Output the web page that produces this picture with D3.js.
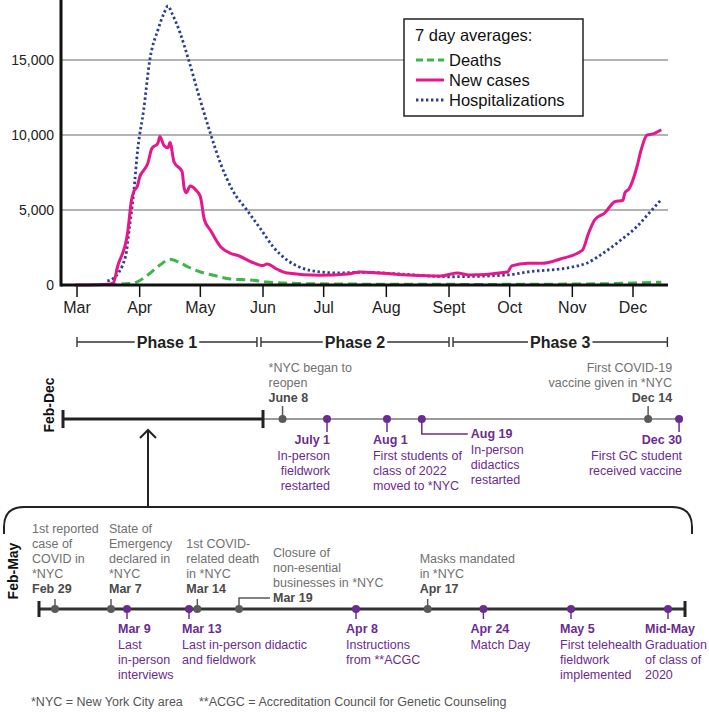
<!DOCTYPE html>
<html>
<head>
<meta charset="utf-8">
<script src="https://cdn.jsdelivr.net/npm/d3@7"></script>
<style>
  body { margin: 0; background: #fff; }
  svg { display: block; font-family: "Liberation Sans", Arial, Helvetica, sans-serif; }
</style>
</head>
<body>
<svg id="chart" width="709" height="712"></svg>
<script>
const parse = d3.timeParse("%Y-%m-%d");

// 7 day averages, [date, value]
const deaths = [
  ["2020-03-16", 30], ["2020-03-29", 130], ["2020-04-05", 670], ["2020-04-11", 1330],
  ["2020-04-16", 1720], ["2020-04-20", 1550], ["2020-04-25", 1200], ["2020-05-01", 870],
  ["2020-05-07", 670], ["2020-05-16", 400], ["2020-05-26", 330], ["2020-06-03", 200],
  ["2020-06-19", 100], ["2020-07-15", 60], ["2020-08-15", 50], ["2020-09-15", 40],
  ["2020-10-15", 50], ["2020-11-15", 80], ["2020-12-01", 130], ["2020-12-15", 190]
];

const newCases = [
  ["2020-02-29", 0], ["2020-03-10", 20], ["2020-03-16", 50], ["2020-03-19", 150],
  ["2020-03-21", 1200], ["2020-03-26", 3450], ["2020-03-28", 5700], ["2020-03-29", 6200],
  ["2020-03-31", 6650], ["2020-04-01", 7200], ["2020-04-03", 7650], ["2020-04-05", 8100],
  ["2020-04-07", 9100], ["2020-04-10", 9450], ["2020-04-11", 9900], ["2020-04-13", 9300],
  ["2020-04-15", 9150], ["2020-04-16", 9500], ["2020-04-18", 8200], ["2020-04-22", 7550],
  ["2020-04-23", 6450], ["2020-04-24", 6150], ["2020-04-26", 6600], ["2020-04-29", 6300],
  ["2020-05-01", 5900], ["2020-05-03", 4350], ["2020-05-06", 3650], ["2020-05-11", 2550],
  ["2020-05-16", 2100], ["2020-05-20", 1950], ["2020-05-26", 1550], ["2020-06-01", 1300],
  ["2020-06-03", 1400], ["2020-06-08", 1050], ["2020-06-13", 800], ["2020-06-29", 650],
  ["2020-07-13", 730], ["2020-07-19", 870], ["2020-08-11", 670], ["2020-08-28", 600],
  ["2020-09-05", 800], ["2020-09-11", 670], ["2020-09-30", 870], ["2020-10-02", 1270],
  ["2020-10-10", 1450], ["2020-10-17", 1450], ["2020-10-26", 1730], ["2020-11-06", 2330],
  ["2020-11-09", 3450], ["2020-11-12", 4330], ["2020-11-17", 4800], ["2020-11-22", 5550],
  ["2020-11-26", 5650], ["2020-11-27", 6150], ["2020-11-29", 6400], ["2020-12-03", 7900],
  ["2020-12-05", 9000], ["2020-12-08", 10000], ["2020-12-11", 10070], ["2020-12-13", 10200],
  ["2020-12-15", 10350]
];

const hospitalizations = [
  ["2020-03-16", 270], ["2020-03-19", 450], ["2020-03-25", 1900], ["2020-03-27", 3900],
  ["2020-03-29", 6100], ["2020-03-31", 9000], ["2020-04-03", 11700], ["2020-04-06", 15000],
  ["2020-04-10", 17000], ["2020-04-13", 18100], ["2020-04-15", 18600], ["2020-04-17", 18100],
  ["2020-04-21", 16800], ["2020-04-25", 15100], ["2020-05-01", 12300], ["2020-05-06", 10100],
  ["2020-05-11", 8100], ["2020-05-17", 6300], ["2020-05-24", 5000], ["2020-05-31", 3700],
  ["2020-06-06", 2550], ["2020-06-13", 1650], ["2020-06-19", 1200], ["2020-06-29", 880],
  ["2020-07-09", 800], ["2020-07-19", 850], ["2020-08-08", 730], ["2020-09-01", 550],
  ["2020-09-30", 670], ["2020-10-10", 870], ["2020-11-01", 1200], ["2020-11-08", 1450],
  ["2020-11-16", 2100], ["2020-11-25", 3000], ["2020-12-03", 3900], ["2020-12-09", 4800],
  ["2020-12-15", 5700]
];

const yTicks = [0, 5000, 10000, 15000];
const monthTicks = ["2020-03-01", "2020-04-01", "2020-05-01", "2020-06-01", "2020-07-01",
  "2020-08-01", "2020-09-01", "2020-10-01", "2020-11-01", "2020-12-01"];
const monthLabels = ["Mar", "Apr", "May", "Jun", "Jul", "Aug", "Sept", "Oct", "Nov", "Dec"];

const phases = [
  { name: "Phase 1", start: "2020-03-01", end: "2020-05-29" },
  { name: "Phase 2", start: "2020-05-31", end: "2020-09-01" },
  { name: "Phase 3", start: "2020-09-03", end: "2020-12-18" }
];

// kind: "nyc" = city events (grey), "gc" = programme events (purple)
const febDecEvents = [
  { date: "2020-06-08", kind: "nyc", label: "June 8", text: ["*NYC began to", "reopen"] },
  { date: "2020-07-01", kind: "gc", label: "July 1", text: ["In-person", "fieldwork", "restarted"] },
  { date: "2020-08-01", kind: "gc", label: "Aug 1", text: ["First students of", "class of 2022", "moved to *NYC"] },
  { date: "2020-08-19", kind: "gc", label: "Aug 19", text: ["In-person", "didactics", "restarted"] },
  { date: "2020-12-14", kind: "nyc", label: "Dec 14", text: ["First COVID-19", "vaccine given in *NYC"] },
  { date: "2020-12-30", kind: "gc", label: "Dec 30", text: ["First GC student", "received vaccine"] }
];

const febMayEvents = [
  { date: "2020-02-29", kind: "nyc", label: "Feb 29", text: ["1st reported", "case of", "COVID in", "*NYC"] },
  { date: "2020-03-07", kind: "nyc", label: "Mar 7", text: ["State of", "Emergency", "declared in", "*NYC"] },
  { date: "2020-03-09", kind: "gc", label: "Mar 9", text: ["Last", "in-person", "interviews"] },
  { date: "2020-03-13", kind: "gc", label: "Mar 13", text: ["Last in-person didactic", "and fieldwork"] },
  { date: "2020-03-14", kind: "nyc", label: "Mar 14", text: ["1st COVID-", "related death", "in *NYC"] },
  { date: "2020-03-19", kind: "nyc", label: "Mar 19", text: ["Closure of", "non-esential", "businesses in *NYC"] },
  { date: "2020-04-08", kind: "gc", label: "Apr 8", text: ["Instructions", "from **ACGC"] },
  { date: "2020-04-17", kind: "nyc", label: "Apr 17", text: ["Masks mandated", "in *NYC"] },
  { date: "2020-04-24", kind: "gc", label: "Apr 24", text: ["Match Day"] },
  { date: "2020-05-05", kind: "gc", label: "May 5", text: ["First telehealth", "fieldwork", "implemented"] },
  { date: "2020-05-15", kind: "gc", label: "Mid-May", text: ["Graduation", "of class of", "2020"] }
];

const footnotes = ["*NYC = New York City area", "**ACGC = Accreditation Council for Genetic Counseling"];

// ---------- layout ----------
const svg = d3.select("#chart");
const font = 12.5;
const rowStep = 15.2;
const purple = "#6b2c91";
const colors = {
  deaths: "#3db54a", cases: "#e6178a", hosp: "#2b3d96",
  nycDot: "#5a5a5a", nycText: "#707070", nycBold: "#4a4a4a"
};

const plot = { left: 61, right: 668, top: 0, bottom: 285 };

const x = d3.scaleTime()
  .domain([parse("2020-03-01"), parse("2020-12-01")])
  .range([77, 633]);
const y = d3.scaleLinear().domain([0, 19000]).range([plot.bottom, plot.top]);

// grid
svg.append("g").selectAll("line")
  .data(yTicks.filter(d => d > 0))
  .join("line")
  .attr("x1", plot.left).attr("x2", plot.right)
  .attr("y1", d => y(d)).attr("y2", d => y(d))
  .attr("stroke", "#9a9a9a").attr("stroke-width", 1.5);

// y labels
svg.append("g").selectAll("text")
  .data(yTicks)
  .join("text")
  .attr("x", plot.left - 7).attr("y", d => y(d)).attr("dy", "0.35em")
  .attr("text-anchor", "end").attr("font-size", 14).attr("fill", "#222")
  .text(d => d3.format(",")(d));

// month ticks + labels
const xAxis = svg.append("g");
xAxis.selectAll("line")
  .data(monthTicks)
  .join("line")
  .attr("x1", d => x(parse(d))).attr("x2", d => x(parse(d)))
  .attr("y1", plot.bottom).attr("y2", plot.bottom + 12)
  .attr("stroke", "#111").attr("stroke-width", 1.5);
xAxis.selectAll("text")
  .data(monthTicks)
  .join("text")
  .attr("x", d => x(parse(d))).attr("y", plot.bottom + 22).attr("dy", "0.35em")
  .attr("text-anchor", "middle").attr("font-size", 16).attr("fill", "#222")
  .text((d, i) => monthLabels[i]);

// series
const line = d3.line()
  .x(d => x(parse(d[0])))
  .y(d => y(d[1]))
  .curve(d3.curveMonotoneX);

svg.append("path").datum(deaths).attr("d", line)
  .attr("fill", "none").attr("stroke", colors.deaths).attr("stroke-width", 3)
  .attr("stroke-dasharray", "9 5");
svg.append("path").datum(hospitalizations).attr("d", line)
  .attr("fill", "none").attr("stroke", colors.hosp).attr("stroke-width", 2.8)
  .attr("stroke-dasharray", "2.4 2.6");
svg.append("path").datum(newCases).attr("d", line)
  .attr("fill", "none").attr("stroke", colors.cases).attr("stroke-width", 3);

// axes lines
svg.append("line").attr("x1", plot.left).attr("x2", plot.left)
  .attr("y1", plot.top).attr("y2", plot.bottom + 1.5)
  .attr("stroke", "#111").attr("stroke-width", 3);
svg.append("line").attr("x1", plot.left).attr("x2", plot.right)
  .attr("y1", plot.bottom).attr("y2", plot.bottom)
  .attr("stroke", "#111").attr("stroke-width", 3);

// legend
const legend = svg.append("g").attr("transform", "translate(404,19)");
legend.append("rect").attr("width", 179).attr("height", 97)
  .attr("fill", "#fff").attr("stroke", "#222").attr("stroke-width", 1.5);
legend.append("text").attr("x", 11).attr("y", 16).attr("dy", "0.35em")
  .attr("font-size", 16.5).attr("fill", "#111").text("7 day averages:");
const legendItems = [
  { name: "Deaths", color: colors.deaths, dash: "7 4", w: 3 },
  { name: "New cases", color: colors.cases, dash: null, w: 3 },
  { name: "Hospitalizations", color: colors.hosp, dash: "2.4 2.6", w: 2.8 }
];
legendItems.forEach((d, i) => {
  const ly = 41 + i * 20;
  legend.append("line").attr("x1", 12).attr("x2", 40).attr("y1", ly).attr("y2", ly)
    .attr("stroke", d.color).attr("stroke-width", d.w)
    .attr("stroke-dasharray", d.dash);
  legend.append("text").attr("x", 45).attr("y", ly).attr("dy", "0.35em")
    .attr("font-size", 16.5).attr("fill", "#111").text(d.name);
});

// phases
const phaseY = 342;
phases.forEach(p => {
  const x1 = x(parse(p.start)), x2 = x(parse(p.end));
  const g = svg.append("g");
  const t = g.append("text").attr("x", (x1 + x2) / 2).attr("y", phaseY).attr("dy", "0.35em")
    .attr("text-anchor", "middle").attr("font-size", 16).attr("font-weight", "bold")
    .attr("fill", "#222").text(p.name);
  const half = t.node().getComputedTextLength() / 2;
  const cx = (x1 + x2) / 2;
  [[x1, cx - half - 2], [cx + half + 2, x2]].forEach(([a, b]) => {
    g.append("line").attr("x1", a).attr("x2", b).attr("y1", phaseY).attr("y2", phaseY)
      .attr("stroke", "#333").attr("stroke-width", 1.4);
  });
  [x1, x2].forEach(v => {
    g.append("line").attr("x1", v).attr("x2", v).attr("y1", phaseY - 5).attr("y2", phaseY + 5)
      .attr("stroke", "#333").attr("stroke-width", 1.4);
  });
});

// ---------- timelines ----------
// Feb-Dec: linear in time from June on; Feb-May is the black bracket
const tlDec = d3.scaleTime()
  .domain([parse("2020-06-01"), parse("2020-12-31")])
  .range([269, 681]);
// Feb-May: schematic spacing, stretched where labels crowd
const tlMay = d3.scaleTime()
  .domain(["2020-02-29", "2020-03-09", "2020-03-13", "2020-03-19", "2020-04-08", "2020-05-05", "2020-05-15"].map(parse))
  .range([55, 127, 189, 239, 356, 571, 668]);

// per-label placement: side, text anchor, dx from dot, elbow length
const decLayout = {
  "June 8": { side: "above", anchor: "start", dx: -14 },
  "July 1": { side: "below", anchor: "end", dx: 3 },
  "Aug 1": { side: "below", anchor: "start", dx: -14 },
  "Aug 19": { side: "below", anchor: "start", elbow: 46 },
  "Dec 14": { side: "above", anchor: "end", dx: 24 },
  "Dec 30": { side: "below", anchor: "end", dx: 3 }
};
const mayLayout = {
  "Feb 29": { side: "above", anchor: "start", dx: -23 },
  "Mar 7": { side: "above", anchor: "start", dx: -2 },
  "Mar 9": { side: "below", anchor: "start", dx: -9 },
  "Mar 13": { side: "below", anchor: "start", dx: -7 },
  "Mar 14": { side: "above", anchor: "start", dx: -11 },
  "Mar 19": { side: "above", anchor: "start", elbow: 31 },
  "Apr 8": { side: "below", anchor: "start", dx: -10 },
  "Apr 17": { side: "above", anchor: "start", dx: -8 },
  "Apr 24": { side: "below", anchor: "start", dx: -13 },
  "May 5": { side: "below", anchor: "start", dx: -11 },
  "Mid-May": { side: "below", anchor: "start", dx: -23 }
};

function drawEvents(events, scale, lineY, layout, gap) {
  const g = svg.append("g");
  events.forEach(e => {
    const cx = scale(parse(e.date));
    const L = layout[e.label];
    const isGc = e.kind === "gc";
    const dotColor = isGc ? purple : colors.nycDot;
    const textColor = isGc ? purple : colors.nycText;
    const boldColor = isGc ? purple : colors.nycBold;
    const dir = L.side === "above" ? -1 : 1;
    let tx, dateY;
    if (L.elbow) {
      const ey = lineY + dir * gap.elbow;
      g.append("path")
        .attr("d", `M${cx},${lineY} V${ey} H${cx + L.elbow}`)
        .attr("fill", "none").attr("stroke", dotColor).attr("stroke-width", 1.5);
      tx = cx + L.elbow + 3;
      dateY = ey;
    } else {
      g.append("line").attr("x1", cx).attr("x2", cx)
        .attr("y1", lineY).attr("y2", lineY + dir * gap.stem)
        .attr("stroke", dotColor).attr("stroke-width", 1.5);
      tx = cx + L.dx;
      dateY = lineY + dir * gap.date;
    }
    const rows = L.side === "above"
      ? e.text.map((t, i) => ({ t, y: dateY - (e.text.length - i) * rowStep, bold: false }))
      : e.text.map((t, i) => ({ t, y: dateY + (i + 1) * rowStep, bold: false }));
    rows.push({ t: e.label, y: dateY, bold: true });
    g.selectAll(null).data(rows).join("text")
      .attr("x", tx).attr("y", d => d.y).attr("dy", "0.35em")
      .attr("text-anchor", L.anchor).attr("font-size", font)
      .attr("font-weight", d => d.bold ? "bold" : null)
      .attr("fill", d => d.bold ? boldColor : textColor)
      .text(d => d.t);
    g.append("circle").attr("cx", cx).attr("cy", lineY).attr("r", 4).attr("fill", dotColor);
  });
}

// Feb-Dec line
const decY = 419;
const decBarL = 63, decBarR = 263;
svg.append("line").attr("x1", decBarR).attr("x2", tlDec(parse("2020-12-30")) + 4)
  .attr("y1", decY).attr("y2", decY).attr("stroke", "#9a9a9a").attr("stroke-width", 2);
svg.append("line").attr("x1", decBarL).attr("x2", decBarR)
  .attr("y1", decY).attr("y2", decY).attr("stroke", "#222").attr("stroke-width", 3);
[decBarL, decBarR].forEach(v => {
  svg.append("line").attr("x1", v).attr("x2", v).attr("y1", decY - 9).attr("y2", decY + 9)
    .attr("stroke", "#222").attr("stroke-width", 3);
});
drawEvents(febDecEvents, tlDec, decY, decLayout, { stem: 13, date: 21, elbow: 15 });

// bracket + arrow linking the two timelines
svg.append("path")
  .attr("d", "M4,534 V527 Q4,507 24,507 H672 Q692,507 692,527 V534")
  .attr("fill", "none").attr("stroke", "#222").attr("stroke-width", 2);
svg.append("path")
  .attr("d", "M148,507 V430 M140,438 L148,430 L156,438")
  .attr("fill", "none").attr("stroke", "#222").attr("stroke-width", 2);

// Feb-May line
const mayY = 609;
const mayL = 39, mayR = 685;
svg.append("line").attr("x1", mayL).attr("x2", mayR)
  .attr("y1", mayY).attr("y2", mayY).attr("stroke", "#333").attr("stroke-width", 3);
[mayL, mayR].forEach(v => {
  svg.append("line").attr("x1", v).attr("x2", v).attr("y1", mayY - 8).attr("y2", mayY + 8)
    .attr("stroke", "#222").attr("stroke-width", 3);
});
drawEvents(febMayEvents, tlMay, mayY, mayLayout, { stem: 10, date: 20, elbow: 11 });

// side titles
[["Feb-Dec", 49, 405], ["Feb-May", 13, 571]].forEach(([t, tx, ty]) => {
  svg.append("text").attr("transform", `translate(${tx},${ty}) rotate(-90)`)
    .attr("dy", "0.35em").attr("text-anchor", "middle")
    .attr("font-size", 14).attr("font-weight", "bold").attr("fill", "#111").text(t);
});

// footnote
svg.append("text").attr("x", 31).attr("y", 702).attr("dy", "0.35em")
  .attr("font-size", font).attr("fill", "#555").text(footnotes[0]);
svg.append("text").attr("x", 199).attr("y", 702).attr("dy", "0.35em")
  .attr("font-size", font).attr("fill", "#555").text(footnotes[1]);
</script>
</body>
</html>
